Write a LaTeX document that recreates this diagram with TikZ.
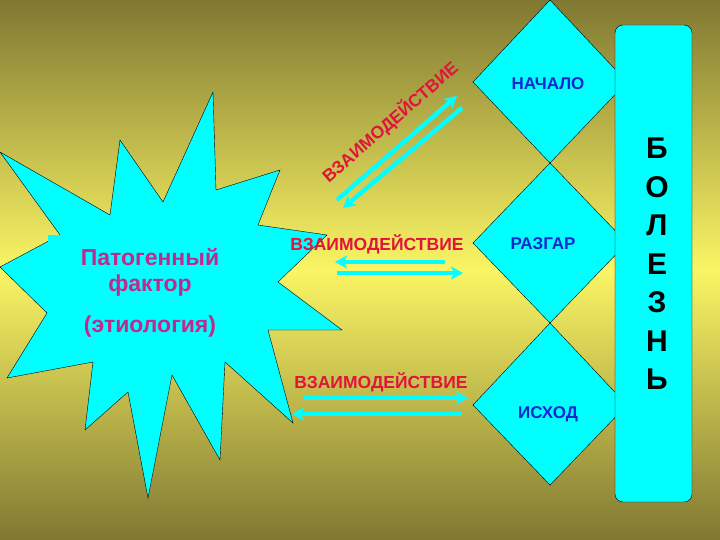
\documentclass[tikz,border=0pt]{standalone}
\usepackage{fontspec}
\setmainfont{Liberation Sans}
\usetikzlibrary{arrows.meta}
\definecolor{cy}{RGB}{0,255,255}
\definecolor{olv}{RGB}{128,120,50}
\definecolor{ylw}{RGB}{250,245,100}
\definecolor{rd}{RGB}{225,20,60}
\definecolor{mg}{RGB}{195,40,140}
\definecolor{bl}{RGB}{20,40,210}
\begin{document}
\begin{tikzpicture}[x=1pt,y=-1pt,
  arr/.style={line width=4.5pt,draw=cy,-{Stealth[length=12pt,width=13pt,inset=3pt]}},
  red/.style={text=rd,font=\bfseries\fontsize{17.5}{19}\selectfont},
  dia/.style={fill=cy,draw=black,line width=0.4pt},
  blu/.style={text=bl,font=\bfseries\fontsize{17}{19}\selectfont},
  mag/.style={text=mg,font=\bfseries\fontsize{23}{25}\selectfont}]
\shade[top color=olv,bottom color=ylw] (0,0) rectangle (720,270);
\shade[top color=ylw,bottom color=olv] (0,270) rectangle (720,540);
\useasboundingbox (0,0) rectangle (720,540);
% star
\filldraw[fill=cy,draw=black,line width=0.4pt] (0,152)--(110,215)--(120,140)--(163,202)--(213,92)--(216,190)--(280,170)--(258,225)--(327,235)--(278,282)--(342,330)--(268,330)--(293,423)--(225,362)--(220,460)--(172,375)--(148,498)--(128,392)--(85,430)--(93,362)--(7,378)--(47,313)--(0,267)--(60,235)--cycle;
\fill[cy] (48,235) rectangle (200,337);
\node[mag] (p1) at (150,257) {Патогенный};
\node[mag] (p2) at (150,286) {фактор};
\node[mag] (p3) at (150,327) {(этиология)};
% diamonds
\path[dia] (550,0)--(627,82)--(550,163)--(473,82)--cycle;
\path[dia] (550,163)--(627,243)--(550,323)--(473,243)--cycle;
\path[dia] (550,323)--(627,405)--(550,485)--(473,405)--cycle;
\node[blu] (n1) at (548,84) {НАЧАЛО};
\node[blu] (n2) at (543,244) {РАЗГАР};
\node[blu] (n3) at (548,414) {ИСХОД};
% bar
\filldraw[fill=cy,draw=black,rounded corners=8pt] (615,25) rectangle (692,502);
\foreach \l [count=\i] in {Б,О,Л,Е,З,Н,Ь}
  \node[font=\bfseries\fontsize{30}{32}\selectfont] (b\i) at (657,110+\i*38.5) {\l};
% texts
\node[red,rotate=41] (t1) at (390,122) {ВЗАИМОДЕЙСТВИЕ};
\node[red] (t2) at (377,244) {ВЗАИМОДЕЙСТВИЕ};
\node[red] (t3) at (381,382) {ВЗАИМОДЕЙСТВИЕ};
% arrows
\coordinate (a1) at (337,200); \coordinate (a2) at (457,96);
\coordinate (a3) at (462,108); \coordinate (a4) at (343,208);
\draw[arr] (a1)--(a2); \draw[arr] (a3)--(a4);
\coordinate (c1) at (445,262); \coordinate (c2) at (335,262);
\coordinate (c3) at (337,273); \coordinate (c4) at (463,273);
\draw[arr] (c1)--(c2); \draw[arr] (c3)--(c4);
\coordinate (d1) at (303,398); \coordinate (d2) at (468,398);
\coordinate (d3) at (462,414); \coordinate (d4) at (292,414);
\draw[arr] (d1)--(d2); \draw[arr] (d3)--(d4);
\end{tikzpicture}
\end{document}
